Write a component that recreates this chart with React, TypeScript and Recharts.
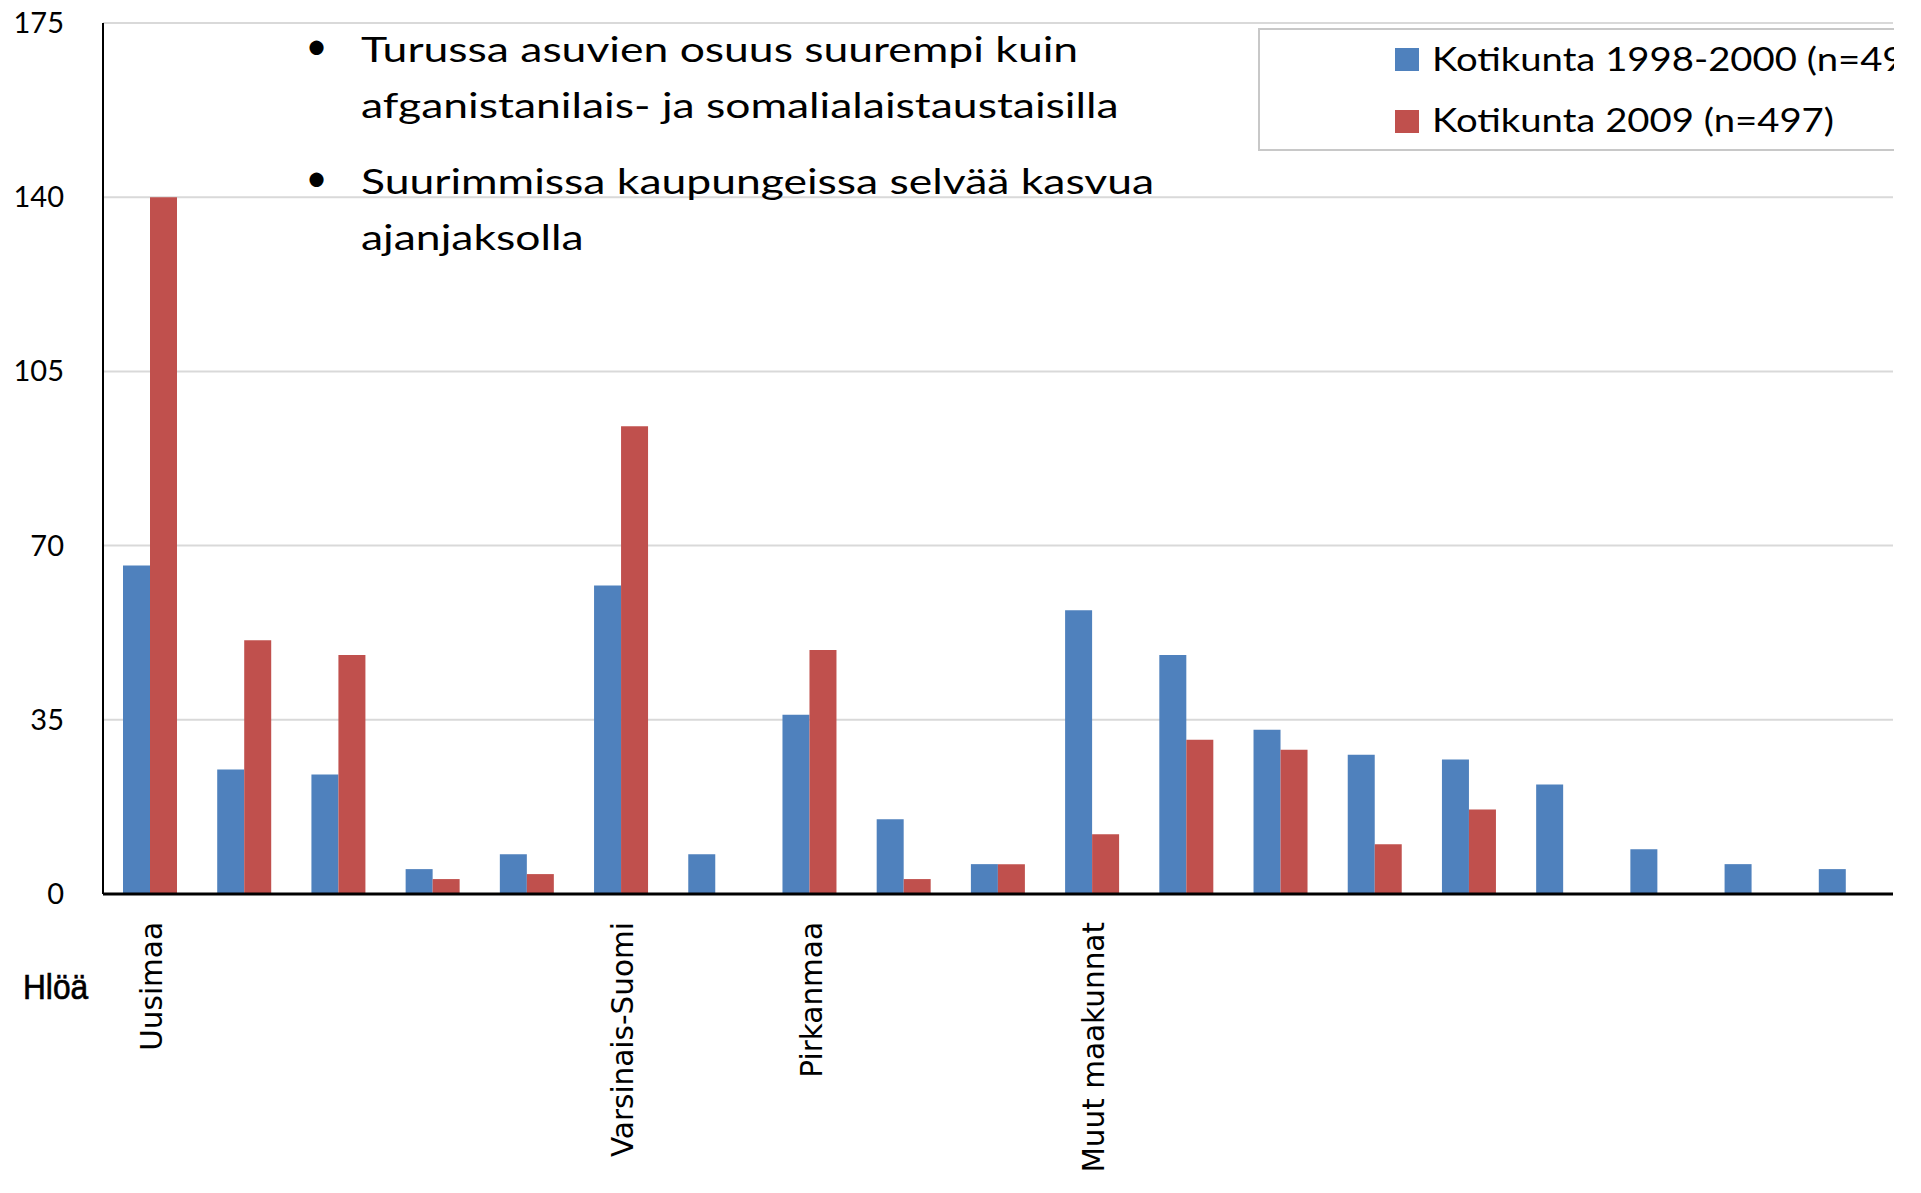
import React from "react";
import { BarChart, Bar, XAxis, YAxis, CartesianGrid, Legend } from "recharts";

// ── Colours (Office 2007 palette) ──
const BLUE = "#4F81BD";
const RED = "#C0504D";
const GRID = "#D9D9D9";

// ── Data ──
const REGIONS = [
  "Uusimaa", "", "", "", "", "Varsinais-Suomi", "", "Pirkanmaa", "", "",
  "Muut maakunnat", "", "", "", "", "", "", "", "",
];
const KOTIKUNTA_1998 = [66, 25, 24, 5, 8, 62, 8, 36, 15, 6, 57, 48, 33, 28, 27, 22, 9, 6, 5];
const KOTIKUNTA_2009 = [140, 51, 48, 3, 4, 94, 0, 49, 3, 6, 12, 31, 29, 10, 17, 0, 0, 0, 0];
const Y_TICKS = [0, 35, 70, 105, 140, 175];
const SERIES_1998 = "Kotikunta 1998-2000 (n=49";
const SERIES_2009 = "Kotikunta 2009 (n=497)";
const Y_UNIT = "Hlöä";
const BULLETS = [
  ["Turussa asuvien osuus suurempi kuin", "afganistanilais- ja somalialaistaustaisilla"],
  ["Suurimmissa kaupungeissa selvää kasvua", "ajanjaksolla"],
];

const data = REGIONS.map((region, i) => ({
  id: i,
  region,
  a: KOTIKUNTA_1998[i],
  b: KOTIKUNTA_2009[i],
}));

// Calibri stand-in; the original text is stretched sideways, hence the scaleX below
const CAL = "Lato, 'Open Sans', sans-serif";

// ── Ticks ──
function RegionTick({ x, payload }: any) {
  const label = REGIONS[payload.value];
  if (!label) return null;
  return (
    <text
      transform={`translate(${x},922) rotate(-90)`}
      textAnchor="end"
      dy={12}
      fontFamily="'DejaVu Sans', sans-serif"
      fontSize={29.5}
      fill="#000"
    >
      {label}
    </text>
  );
}

function ValueTick({ y, payload }: any) {
  return (
    <text x={64} y={y} dy={10} textAnchor="end" fontFamily={CAL} fontSize={29} fill="#000">
      {payload.value}
    </text>
  );
}

// ── Legend box ──
function LegendBox({ payload }: any) {
  const items = payload ?? [];
  return (
    <svg width={700} height={124} style={{ display: "block" }}>
      <rect x={1} y={1} width={720} height={121} fill="#fff" stroke="#C8C8C8" strokeWidth={2} />
      {items.map((p: any, i: number) => (
        <g key={i}>
          <rect x={137} y={20 + i * 62} width={24} height={23} fill={p.color} />
          <text
            transform={`translate(174,${43 + i * 61}) scale(1.16,1)`}
            fontFamily={CAL}
            fontSize={33}
            fill="#000"
          >
            {p.value}
          </text>
        </g>
      ))}
    </svg>
  );
}

export default function App() {
  return (
    <div
      style={{
        position: "absolute",
        left: 0,
        top: 0,
        width: 1921,
        height: 1193,
        background: "#fff",
      }}
    >
      <div style={{ position: "absolute", left: 0, top: 0, width: 1894, height: 1193, overflow: "hidden" }}>
        <BarChart
          width={1894}
          height={1193}
          data={data}
          margin={{ top: 23, right: 1, left: 0, bottom: 0 }}
          barGap={0}
        >
          <CartesianGrid vertical={false} stroke={GRID} strokeWidth={2} />
          <XAxis
            dataKey="id"
            type="category"
            height={299}
            tickLine={false}
            axisLine={{ stroke: "#000", strokeWidth: 3 }}
            tick={<RegionTick />}
            interval={0}
          />
          <YAxis
            width={103}
            domain={[0, 175]}
            ticks={Y_TICKS}
            tickLine={false}
            axisLine={{ stroke: "#000", strokeWidth: 2 }}
            tick={<ValueTick />}
            interval={0}
          />
          <Legend
            layout="vertical"
            align="center"
            verticalAlign="middle"
            wrapperStyle={{ left: 1258, top: 28, width: 700, height: 124 }}
            content={<LegendBox />}
          />
          <Bar dataKey="a" name={SERIES_1998} fill={BLUE} barSize={27} isAnimationActive={false} />
          <Bar dataKey="b" name={SERIES_2009} fill={RED} barSize={27} isAnimationActive={false} />
        </BarChart>

        <svg
          width={1894}
          height={1193}
          style={{ position: "absolute", left: 0, top: 0, pointerEvents: "none" }}
        >
          {BULLETS.map((lines, bi) => {
            const base = bi === 0 ? 62 : 194;
            return (
              <g key={bi} fontFamily={CAL} fill="#000">
                <text x={316.5} y={base - 3} textAnchor="middle" fontSize={38}>
                  •
                </text>
                {lines.map((line, li) => (
                  <text
                    key={li}
                    transform={`translate(361,${base + li * 56}) scale(1.27,1)`}
                    fontSize={35}
                  >
                    {line}
                  </text>
                ))}
              </g>
            );
          })}
          <text
            transform="translate(23,999) scale(0.88,1)"
            fontFamily="'Liberation Sans', Arial, sans-serif"
            fontSize={36}
            fill="#000"
            stroke="#000"
            strokeWidth={0.7}
          >
            {Y_UNIT}
          </text>
        </svg>
      </div>
    </div>
  );
}
